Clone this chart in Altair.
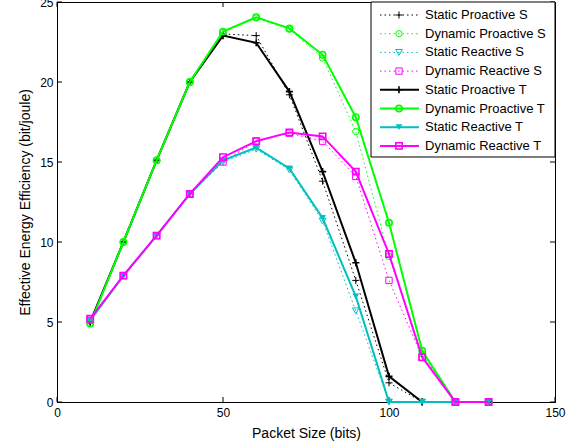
import altair as alt
import pandas as pd

# ---- data ----
packet_size = [10, 20, 30, 40, 50, 60, 70, 80, 90, 100, 110, 120, 130]

static_proactive_s = [5.0, 10.0, 15.1, 20.0, 23.0, 22.9, 19.2, 13.8, 7.6, 1.2, 0, 0, 0]
dynamic_proactive_s = [4.9, 10.0, 15.1, 20.0, 23.1, 24.0, 23.3, 21.5, 16.9, 9.1, 3.0, 0, 0]
static_reactive_s = [5.1, 7.9, 10.4, 13.0, 15.0, 15.8, 14.5, 11.3, 5.7, 0, 0, 0, 0]
dynamic_reactive_s = [5.1, 7.9, 10.4, 13.0, 15.0, 16.3, 16.8, 16.3, 14.1, 7.6, 2.8, 0, 0]
static_proactive_t = [5.0, 10.0, 15.1, 20.0, 22.9, 22.45, 19.4, 14.4, 8.7, 1.6, 0, 0, 0]
dynamic_proactive_t = [4.9, 10.0, 15.1, 20.0, 23.15, 24.05, 23.35, 21.7, 17.8, 11.2, 3.2, 0, 0]
static_reactive_t = [5.1, 7.9, 10.4, 13.0, 15.1, 15.9, 14.6, 11.5, 6.6, 0, 0, 0, 0]
dynamic_reactive_t = [5.2, 7.9, 10.4, 13.0, 15.3, 16.3, 16.85, 16.6, 14.4, 9.25, 2.8, 0, 0]

series_names = [
    "Static Proactive S", "Dynamic Proactive S", "Static Reactive S", "Dynamic Reactive S",
    "Static Proactive T", "Dynamic Proactive T", "Static Reactive T", "Dynamic Reactive T",
]
series_values = [
    static_proactive_s, dynamic_proactive_s, static_reactive_s, dynamic_reactive_s,
    static_proactive_t, dynamic_proactive_t, static_reactive_t, dynamic_reactive_t,
]

x_ticks = [0, 50, 100, 150]
y_ticks = [0, 5, 10, 15, 20, 25]

# ---- styles ----
PLUS = "M-1,0L1,0M0,-1L0,1"
colors = ["#000000", "#00FF00", "#00BFBF", "#FF00FF"] * 2
shapes = [PLUS, "circle", "triangle-down", "square"] * 2
sizes = [50, 40, 45, 40] * 2
W, H = 498, 400
FONT = "Liberation Sans"

xs = alt.Scale(domain=[0, 150], nice=False, zero=False)
ys = alt.Scale(domain=[0, 25], nice=False)

layers = []

# axes (no ticks; inner ticks drawn separately)
axis_df = pd.DataFrame({"x": packet_size, "y": static_proactive_s})
base_axes = alt.Chart(axis_df).mark_point(opacity=0).encode(
    x=alt.X("x:Q", scale=xs,
            axis=alt.Axis(values=x_ticks, title="Packet Size (bits)", ticks=False, grid=False,
                          labelPadding=5, titleY=31, titleBaseline="middle",
                          labelFontSize=12, titleFontSize=14, titleFontWeight="normal",
                          labelFont=FONT, titleFont=FONT, domainColor="black",
                          labelColor="black", titleColor="black", labelFlush=False)),
    y=alt.Y("y:Q", scale=ys,
            axis=alt.Axis(values=y_ticks, title="Effective Energy Efficiency (bit/joule)",
                          ticks=False, grid=False, labelPadding=4,
                          titleX=-32, titleY=H / 2, titleBaseline="middle", titleAlign="center",
                          labelFontSize=12, titleFontSize=14, titleFontWeight="normal",
                          labelFont=FONT, titleFont=FONT, domainColor="black",
                          labelColor="black", titleColor="black", labelFlush=False)),
)
layers.append(base_axes)

# inner ticks
xt = pd.DataFrame({"t": x_ticks})
yt = pd.DataFrame({"t": y_ticks})
layers.append(alt.Chart(xt).mark_rule(color="black", strokeWidth=1).encode(
    x=alt.X("t:Q", scale=xs), y=alt.value(H), y2=alt.value(H - 5)))
layers.append(alt.Chart(xt).mark_rule(color="black", strokeWidth=1).encode(
    x=alt.X("t:Q", scale=xs), y=alt.value(0), y2=alt.value(5)))
layers.append(alt.Chart(yt).mark_rule(color="black", strokeWidth=1).encode(
    y=alt.Y("t:Q", scale=ys), x=alt.value(0), x2=alt.value(5)))
layers.append(alt.Chart(yt).mark_rule(color="black", strokeWidth=1).encode(
    y=alt.Y("t:Q", scale=ys), x=alt.value(W), x2=alt.value(W - 5)))

# data series
for i, (name, vals) in enumerate(zip(series_names, series_values)):
    is_t = name.endswith("T")
    df = pd.DataFrame({"x": packet_size, "y": vals})
    line_kw = dict(color=colors[i], strokeWidth=2 if is_t else 1)
    if not is_t:
        line_kw["strokeDash"] = [1.5, 3]
    layers.append(alt.Chart(df).mark_line(**line_kw).encode(
        x=alt.X("x:Q", scale=xs), y=alt.Y("y:Q", scale=ys)))
    filled = is_t and shapes[i] == "triangle-down"
    pt_kw = dict(shape=shapes[i], size=sizes[i], color=colors[i],
                 strokeWidth=1.6 if is_t else 1, filled=filled, opacity=1)
    layers.append(alt.Chart(df).mark_point(**pt_kw).encode(
        x=alt.X("x:Q", scale=xs), y=alt.Y("y:Q", scale=ys)))

# legend box
one = pd.DataFrame({"a": [0]})
layers.append(alt.Chart(one).mark_rect(fill="white", stroke="black", strokeWidth=1).encode(
    x=alt.value(314), x2=alt.value(W), y=alt.value(0), y2=alt.value(155)))

for i, name in enumerate(series_names):
    is_t = name.endswith("T")
    py = 13 + 18.7 * i
    line_kw = dict(color=colors[i], strokeWidth=2 if is_t else 1)
    if not is_t:
        line_kw["strokeDash"] = [1.5, 3]
    layers.append(alt.Chart(one).mark_rule(**line_kw).encode(
        x=alt.value(323), x2=alt.value(362), y=alt.value(py)))
    filled = is_t and shapes[i] == "triangle-down"
    layers.append(alt.Chart(one).mark_point(shape=shapes[i], size=sizes[i], color=colors[i],
                                            strokeWidth=1.6 if is_t else 1, filled=filled,
                                            opacity=1).encode(
        x=alt.value(342), y=alt.value(py)))
    layers.append(alt.Chart(one).mark_text(align="left", baseline="middle", fontSize=13,
                                           font=FONT, color="black").encode(
        x=alt.value(368), y=alt.value(py), text=alt.value(name)))

chart = alt.layer(*layers).properties(
    width=W, height=H,
    autosize=alt.AutoSizeParams(type="none"),
    padding={"left": 57, "top": 2, "right": 25, "bottom": 43},
    background="white",
).configure_view(stroke="black", strokeWidth=1)

chart.save("out.html", embed_options={"renderer": "svg", "actions": False})
